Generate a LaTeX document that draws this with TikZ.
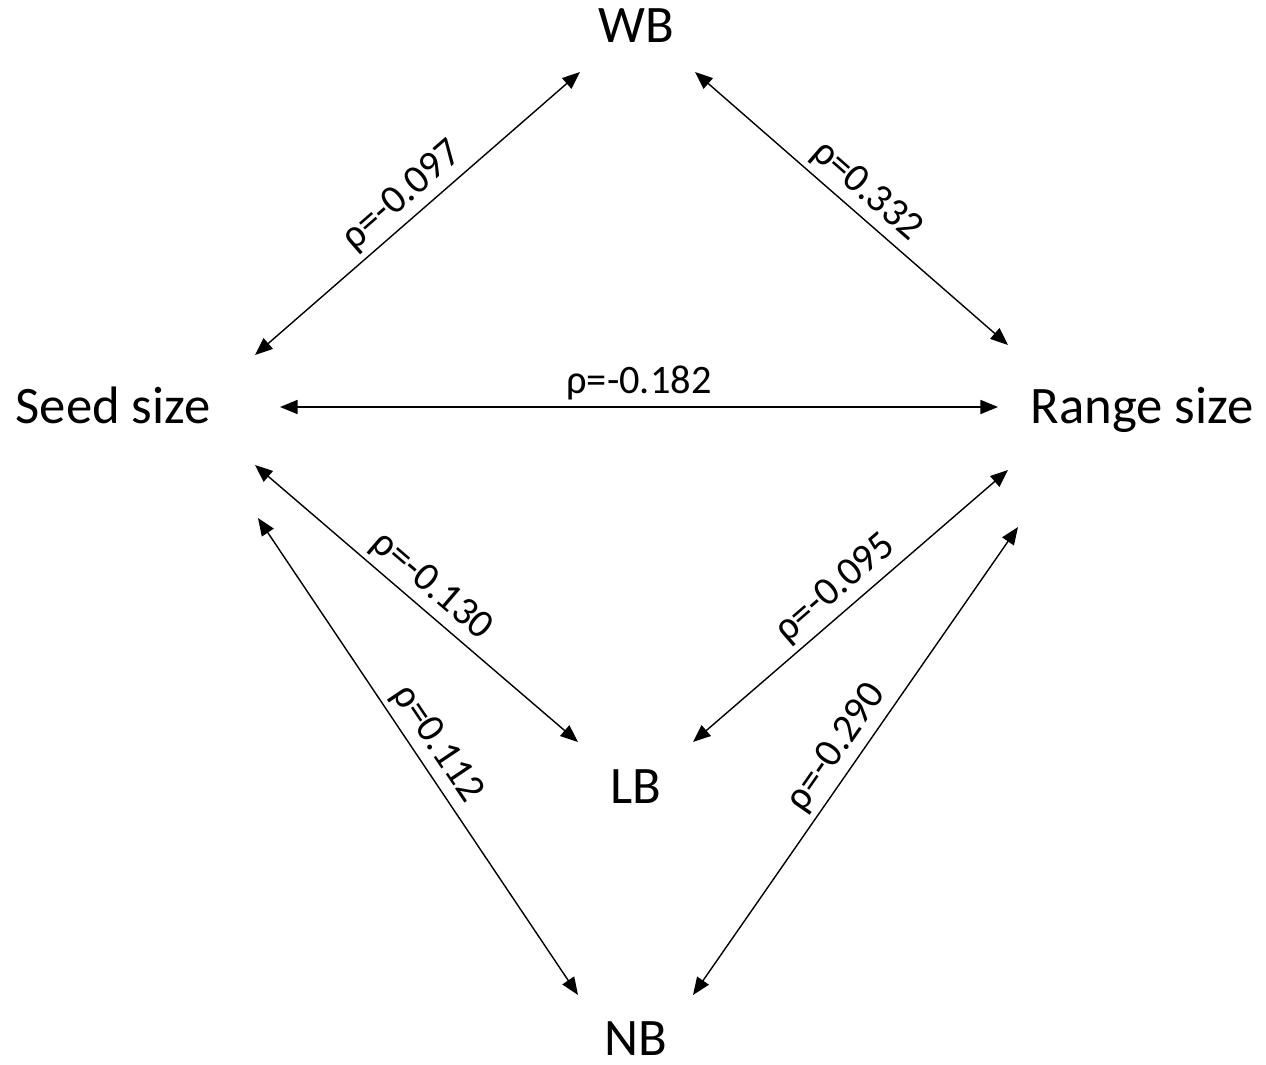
\documentclass[tikz,border=0pt]{standalone}
\usepackage{fontspec}
\setmainfont{Carlito}
\usetikzlibrary{calc,arrows.meta}

\begin{document}
\begin{tikzpicture}[
      x=0.02cm, y=-0.02cm, % one unit = one pixel of the layout
      var/.style={anchor=base, inner sep=0pt, font=\fontsize{30}{36}\selectfont},
      rho/.style={above, sloped, font=\fontsize{23}{28}\selectfont},
      line/.style={draw, line width=0.8pt, {Triangle[length=10pt,width=8pt]}-{Triangle[length=10pt,width=8pt]}}
  ]
      \useasboundingbox (0,0) rectangle (1266,1064);

      % Variables
      \node (wb) [var] at (636,43) {WB};
      \node (seed) [var] at (113,423) {Seed size};
      \node (range) [var] at (1142,423) {Range size};
      \node (lb) [var] at (636,803) {LB};
      \node (nb) [var] at (636,1055) {NB};

      % Correlations, label above each line
      \path [line] ($(seed.base)+(142,-68)$) -- node[rho] {ρ=-0.097} ($(wb.base)+(-56,29)$);
      \path [line] ($(wb.base)+(59,29)$) -- node[rho] {ρ=0.332} ($(range.base)+(-134,-78)$);
      \path [line] ($(seed.base)+(167,-16)$) -- node[rho] {ρ=-0.182} ($(range.base)+(-144,-16)$);
      \path [line] ($(seed.base)+(142,42)$) -- node[rho] {ρ=-0.130} ($(lb.base)+(-58,-61)$);
      \path [line] ($(lb.base)+(57,-61)$) -- node[rho] {ρ=-0.095} ($(range.base)+(-134,47)$);
      \path [line] ($(seed.base)+(145,95)$) -- node[rho] {ρ=0.112} ($(nb.base)+(-58,-60)$);
      \path [line] ($(nb.base)+(57,-60)$) -- node[rho] {ρ=-0.290} ($(range.base)+(-124,104)$);
  \end{tikzpicture}
\end{document}
